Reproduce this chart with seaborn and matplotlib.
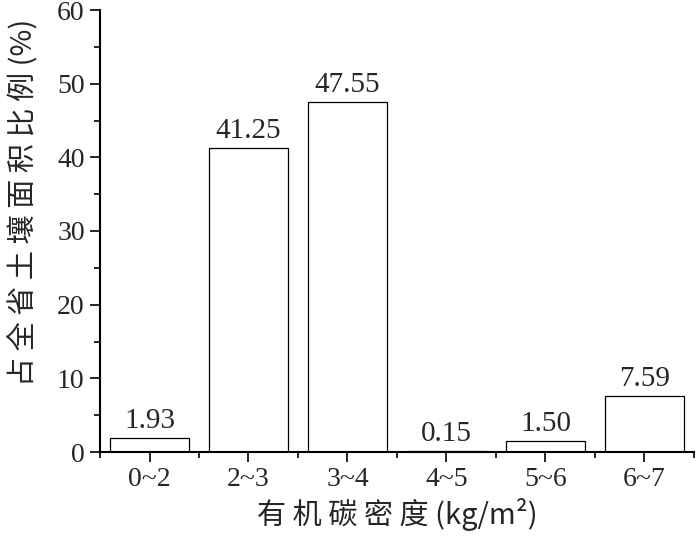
import matplotlib
matplotlib.use('Agg')
import matplotlib.pyplot as plt
from matplotlib.ticker import MultipleLocator, FixedLocator
import seaborn as sns
import pandas as pd

categories = ['0~2', '2~3', '3~4', '4~5', '5~6', '6~7']
values = [1.93, 41.25, 47.55, 0.15, 1.50, 7.59]
labels = ['1.93', '41.25', '47.55', '0.15', '1.50', '7.59']

df = pd.DataFrame({'cat': categories, 'val': values})

sns.set_style('ticks')
plt.rcParams['font.family'] = ['Liberation Serif', 'Noto Sans CJK SC']

fig = plt.figure(figsize=(7, 5.36), dpi=100)
ax = fig.add_axes([100 / 700, 84 / 536, 594 / 700, 442 / 536])

sns.barplot(data=df, x='cat', y='val', color='white', edgecolor='black',
            linewidth=0.9, width=0.8, saturation=1, ax=ax)

ax.bar_label(ax.containers[0], labels=labels, padding=3, fontsize=21,
             family='Liberation Serif')

ax.set_xlim(-0.5, 5.5)
ax.set_ylim(0, 60)
ax.yaxis.set_major_locator(MultipleLocator(10))
ax.yaxis.set_minor_locator(MultipleLocator(5))
ax.xaxis.set_minor_locator(FixedLocator([i + 0.5 for i in range(-1, 6)]))

sns.despine(ax=ax)
for s in ['left', 'bottom']:
    ax.spines[s].set_linewidth(1.5)
    ax.spines[s].set_color('black')

ax.tick_params(which='major', length=7, width=1.2, color='black',
               labelsize=20, direction='out', pad=4)
ax.tick_params(which='minor', length=4, width=1.2, color='black',
               direction='out')
for t in ax.get_xticklabels() + ax.get_yticklabels():
    t.set_family('Liberation Serif')

ax.set_xlabel('有 机 碳 密 度 (kg/m²)', fontsize=21, family='Noto Sans CJK SC',
              labelpad=4)
ax.set_ylabel('占 全 省 土 壤 面 积 比 例 (%)', fontsize=21,
              family='Noto Sans CJK SC')
ax.yaxis.set_label_coords(-0.13, 0.565)
ax.yaxis.label.set_va('center')

fig.savefig('out.png', dpi=100, facecolor='white')
